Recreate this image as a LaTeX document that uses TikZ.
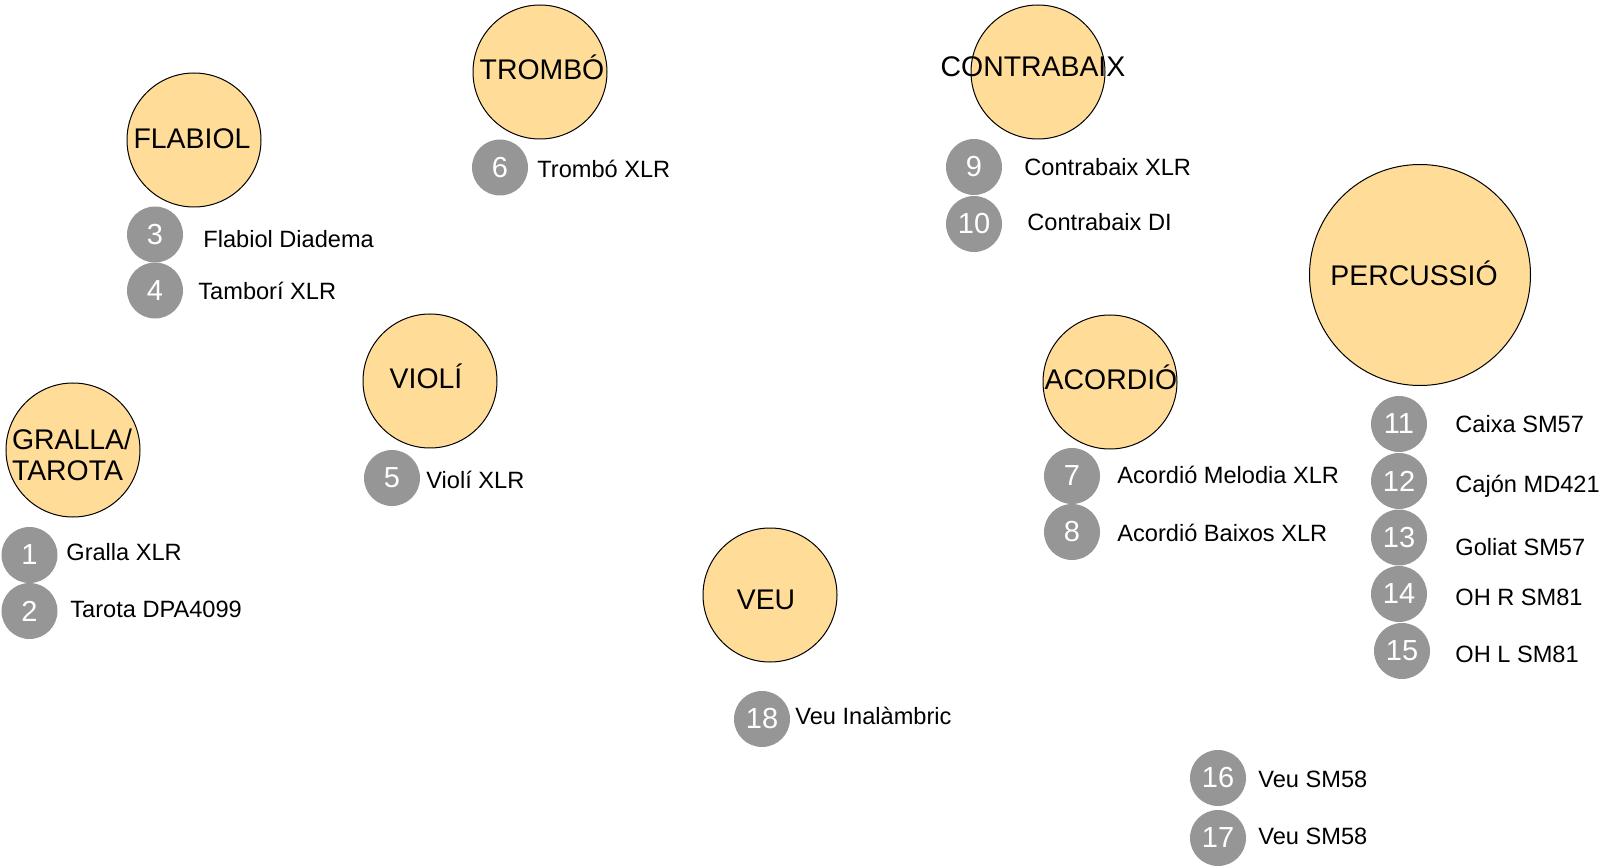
\documentclass[tikz,border=0pt]{standalone}
\usepackage{fontspec}
\setmainfont{Liberation Sans}
\definecolor{instfill}{RGB}{255,221,153}
\definecolor{micgray}{RGB}{150,150,150}

\begin{document}
\begin{tikzpicture}[x=0.5pt,y=-0.5pt,
  inst/.style={circle,draw=black,line width=0.5pt,fill=instfill,minimum size=67pt,inner sep=0pt},
  insttext/.style={anchor=base,inner sep=0pt,font=\fontsize{14.2}{15.5}\selectfont},
  mic/.style={circle,fill=micgray,minimum size=28pt,inner sep=0pt,text=white,font=\fontsize{14.5}{16}\selectfont},
  mictext/.style={anchor=base west,inner sep=0pt,font=\fontsize{11.8}{13}\selectfont}]
\useasboundingbox (0,0) rectangle (1608,866);

% instruments
\node[inst] (flabiol) at (194,140) {};
\node[insttext] (flabioltxt) at (192,149) {FLABIOL};

\node[inst] (trombo) at (540,72) {};
\node[insttext] (trombotxt) at (542,80) {TROMBÓ};

\node[inst] (contrabaix) at (1038,72) {};
\node[insttext] (contrabaixtxt) at (1033,77) {CONTRABAIX};

\node[inst,minimum size=110.5pt] (percussio) at (1420,275) {};
\node[insttext] (percussiotxt) at (1414,286) {PERCUSSIÓ};

\node[inst] (violi) at (430,381) {};
\node[insttext] (violitxt) at (426,389) {VIOLÍ};

\node[inst] (acordio) at (1110,382) {};
\node[insttext] (acordiotxt) at (1111,390) {ACORDIÓ};

\node[inst] (gralla) at (73,450) {};
\node[insttext,anchor=center,align=left] (grallatxt) at (72,454.5) {GRALLA/\\TAROTA};

\node[inst] (veu) at (770,595) {};
\node[insttext] (veutxt) at (766,609) {VEU};

% mics
\foreach \n/\x/\y/\lx/\ly/\micname in {
  1/29.5/555/66/560/Gralla XLR,
  2/29.5/611/70/617/Tarota DPA4099,
  3/155/234.5/203/248/Flabiol Diadema,
  4/155/290.5/198/300/Tamborí XLR,
  5/392/478/426/488/Violí XLR,
  6/500/167.5/537/178/Trombó XLR,
  7/1072/476/1117/483/Acordió Melodia XLR,
  8/1072/532/1117/541/Acordió Baixos XLR,
  9/974/167/1024/176/Contrabaix XLR,
  10/974/224/1027/231/Contrabaix DI,
  11/1399/424/1455/433/Caixa SM57,
  12/1399/481/1455/493/Cajón MD421,
  13/1399/537.5/1455/555/Goliat SM57,
  14/1399/594/1455/605/OH R SM81,
  15/1402/651/1455/662/OH L SM81,
  16/1218/778/1258/787/Veu SM58,
  17/1218/838/1258/844/Veu SM58,
  18/762/719/795/724/Veu Inalàmbric}{
  \node[mic] (mic\n) at (\x,\y) {\n};
  \node[mictext] (mictxt\n) at (\lx,\ly) {\micname};
}

\end{tikzpicture}
\end{document}
